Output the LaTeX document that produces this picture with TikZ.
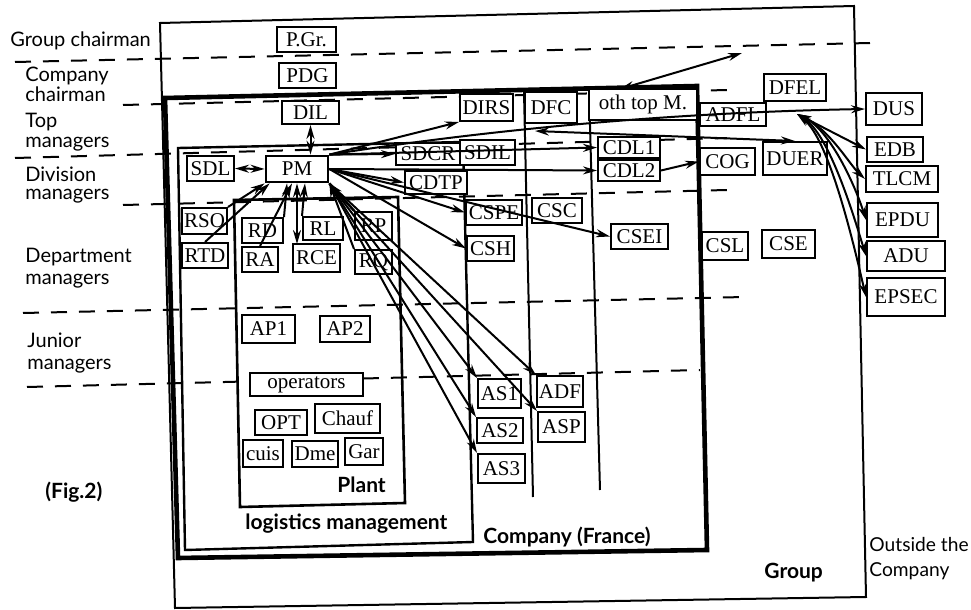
\documentclass[tikz,border=0pt]{standalone}
\usepackage{fontspec}
\setmainfont{Liberation Serif}
\newfontfamily\latofont{Lato}
\usetikzlibrary{arrows.meta,calc}
\newcommand\bxn[7][]{\node[bx,#1, minimum width={(#5-#3)*0.5pt}, minimum height={(#6-#4)*0.5pt}] (#2) at ({(#3+#5)/2},{(#4+#6)/2}) {#7};}
\begin{document}
\begin{tikzpicture}[x=0.5pt,y=-0.5pt,
  bx/.style={draw, line width=1pt, fill=white, inner sep=0pt, font=\fontsize{10.5}{12}\selectfont},
  lvl/.style={anchor=base west, inner sep=0pt, font=\latofont\fontsize{10}{12}\selectfont},
  bl/.style={anchor=base west, inner sep=0pt, font=\latofont\bfseries\fontsize{10.5}{12}\selectfont},
  lvline/.style={line width=1pt, dash pattern=on 8pt off 6pt},
  frame/.style={line width=1pt},
  con/.style={line width=1pt, -{Stealth[length=7pt,width=4pt]}},
  dcon/.style={line width=1pt, {Stealth[length=7pt,width=4pt]}-{Stealth[length=7pt,width=4pt]}},
]
\useasboundingbox (0,0) rectangle (971,610);
% frames
\draw[frame] (160,23) -- (854,6) -- (866,597) -- (175,608) -- cycle;
\draw[line width=2.3pt] (165,98) -- (697,86) -- (707,550) -- (178,558) -- cycle;
\draw[line width=1.2pt] (178,148) -- (463,142) -- (473,542) -- (185,550) -- cycle;
\draw[line width=1.3pt] (234,200) -- (398,197) -- (405,503) -- (240,507) -- cycle;
\draw[frame] (524,92) -- (533,497);
\draw[frame] (589,89) -- (600,490);
% level lines
\draw[lvline] (15,62) -- (870,43);
\draw[lvline] (123,105) -- (727,90);
\draw[lvline] (15,158) -- (727,138);
\draw[lvline] (123,205) -- (727,190);
\draw[lvline] (23,313) -- (745,297);
\draw[lvline] (27,387) -- (700,370);
% boxes
\bxn{PGr}{277}{27}{336}{52}{P.Gr.}
\bxn{PDG}{279}{63}{336}{88}{PDG}
\bxn{DIL}{282}{101}{339}{124}{DIL}
\bxn[line width=1.4pt]{PM}{266}{156}{328}{182}{PM}
\bxn{SDL}{187}{156}{234}{181}{SDL}
\bxn{RSO}{182}{208}{227}{234}{RSO}
\bxn{RTD}{182}{243}{228}{268}{RTD}
\bxn{RD}{242}{218}{283}{243}{RD}
\bxn{RA}{242}{247}{278}{272}{RA}
\bxn{RL}{303}{217}{343}{240}{RL}
\bxn{RCE}{293}{244}{340}{272}{RCE}
\bxn{RP}{355}{212}{392}{240}{RP}
\bxn{RQ}{355}{250}{392}{274}{RQ}
\bxn{AP1}{242}{315}{295}{343}{AP1}
\bxn{AP2}{320}{316}{370}{342}{AP2}
\bxn{operators}{250}{373}{363}{396}{operators}
\bxn{OPT}{255}{410}{307}{435}{OPT}
\bxn{Chauf}{315}{404}{380}{433}{Chauf}
\bxn{cuis}{243}{440}{283}{467}{cuis}
\bxn{Dme}{292}{441}{338}{467}{Dme}
\bxn{Gar}{345}{438}{383}{465}{Gar}
\bxn{AS1}{478}{379}{521}{408}{AS1}
\bxn{AS2}{477}{418}{523}{443}{AS2}
\bxn{AS3}{478}{454}{525}{483}{AS3}
\bxn{ADF}{537}{376}{583}{407}{ADF}
\bxn{ASP}{538}{412}{585}{442}{ASP}
\bxn{DIRS}{460}{94}{513}{121}{DIRS}
\bxn{DFC}{525}{92}{577}{123}{DFC}
\bxn{othtop}{589}{89}{697}{120}{oth top M.}
\bxn{SDCR}{396}{143}{460}{165}{SDCR}
\bxn{SDIL}{460}{140}{515}{165}{SDIL}
\bxn{CDTP}{405}{171}{467}{194}{CDTP}
\bxn{CSPE}{466}{200}{522}{225}{CSPE}
\bxn{CSC}{532}{198}{582}{223}{CSC}
\bxn{CSEI}{611}{224}{668}{249}{CSEI}
\bxn{CSH}{467}{236}{514}{261}{CSH}
\bxn{CDL1}{598}{137}{660}{158}{CDL1}
\bxn{CDL2}{598}{160}{660}{181}{CDL2}
\bxn{ADFL}{700}{103}{766}{126}{ADFL}
\bxn{DFEL}{764}{74}{826}{101}{DFEL}
\bxn{COG}{700}{148}{755}{175}{COG}
\bxn{DUER}{763}{142}{827}{175}{DUER}
\bxn{CSL}{702}{232}{748}{260}{CSL}
\bxn{CSE}{762}{230}{815}{258}{CSE}
\bxn{DUS}{866}{93}{922}{125}{DUS}
\bxn{EDB}{867}{137}{923}{162}{EDB}
\bxn{TLCM}{866}{166}{938}{192}{TLCM}
\bxn{EPDU}{867}{203}{938}{237}{EPDU}
\bxn{ADU}{867}{241}{945}{271}{ADU}
\bxn{EPSEC}{867}{278}{945}{316}{EPSEC}
% connectors
\coordinate (hub) at (797,114);
\coordinate (gtop) at (742,53);
\coordinate (othfoot) at (620,89);
\coordinate (duerL) at (535,131);
\coordinate (rceTop) at (297,244);
\draw[dcon] (DIL.south) -- (DIL.south |- PM.north);
\draw[dcon] (SDL.east) -- (PM.west);
\draw[con] (RSO.north east) -- (PM.south west);
\draw[con] (RTD.north) -- ($(PM.south west)+(5,0)$);
\draw[con] (RD.north east) -- ($(PM.south)+(-10,0)$);
\draw[con] (RA.north) -- ($(PM.south)+(-5,0)$);
\draw[dcon] (rceTop) -- (rceTop |- PM.south);
\draw[con] (RL.north west) -- ($(PM.south)+(8,0)$);
\draw[con] (RP.north west) -- (PM.south east);
\draw[con] (RQ.north west) -- (PM.south east);
\draw[con] (PM.south east) -- (AS1.north west);
\draw[con] (PM.south east) -- (AS2.north west);
\draw[con] (PM.south east) -- (AS3.north west);
\draw[con] (PM.south east) -- (ADF.north west);
\draw[con] (PM.south east) -- (ASP.north west);
\draw[con] (PM.east) -- (CSH.west);
\draw[con] (PM.east) -- (CSPE.west);
\draw[con] (PM.east) -- (CSEI.west);
\draw[con] (PM.east) -- (CDTP.west);
\draw[con] (PM.north east) -- (SDCR.west);
\draw[con] (PM.north east) -- (CDL1.west);
\draw[con] (PM.east) -- (CDL2.west);
\draw[con] (PM.north east) -- (DIRS.south west);
\draw[con] (PM.north east) .. controls (520,125) and (700,112) .. (DUS.west);
\draw[con] (CDL2.east) -- (COG.west);
\draw[dcon] (duerL) -- (DUER.north);
\draw[dcon] (othfoot) -- (gtop);
\draw[dcon] (hub) -- (EDB.west);
\draw[dcon] (hub) .. controls (830,130) and (850,165) .. (TLCM.west);
\draw[dcon] (hub) .. controls (830,130) and (855,185) .. (EPDU.west);
\draw[dcon] (hub) .. controls (830,135) and (855,220) .. (ADU.west);
\draw[dcon] (hub) .. controls (830,140) and (855,250) .. (EPSEC.west);
% labels
\node[lvl] at (10,47) {Group chairman};
\node[lvl] at (25,82) {Company};
\node[lvl] at (25,102) {chairman};
\node[lvl] at (25,128) {Top};
\node[lvl] at (25,148) {managers};
\node[lvl] at (25,182) {Division};
\node[lvl] at (25,200) {managers};
\node[lvl] at (25,263) {Department};
\node[lvl] at (25,285) {managers};
\node[lvl] at (27,348) {Junior};
\node[lvl] at (27,370) {managers};
\node[bl] at (45,498) {(Fig.2)};
\node[bl] at (337,493) {Plant};
\node[bl] at (245,530) {logistics management};
\node[bl] at (483,543) {Company (France)};
\node[bl] at (764,578) {Group};
\node[lvl,font=\latofont\fontsize{9.6}{12}\selectfont] at (869,552) {Outside the};
\node[lvl,font=\latofont\fontsize{9.6}{12}\selectfont] at (869,576) {Company};
\end{tikzpicture}
\end{document}
